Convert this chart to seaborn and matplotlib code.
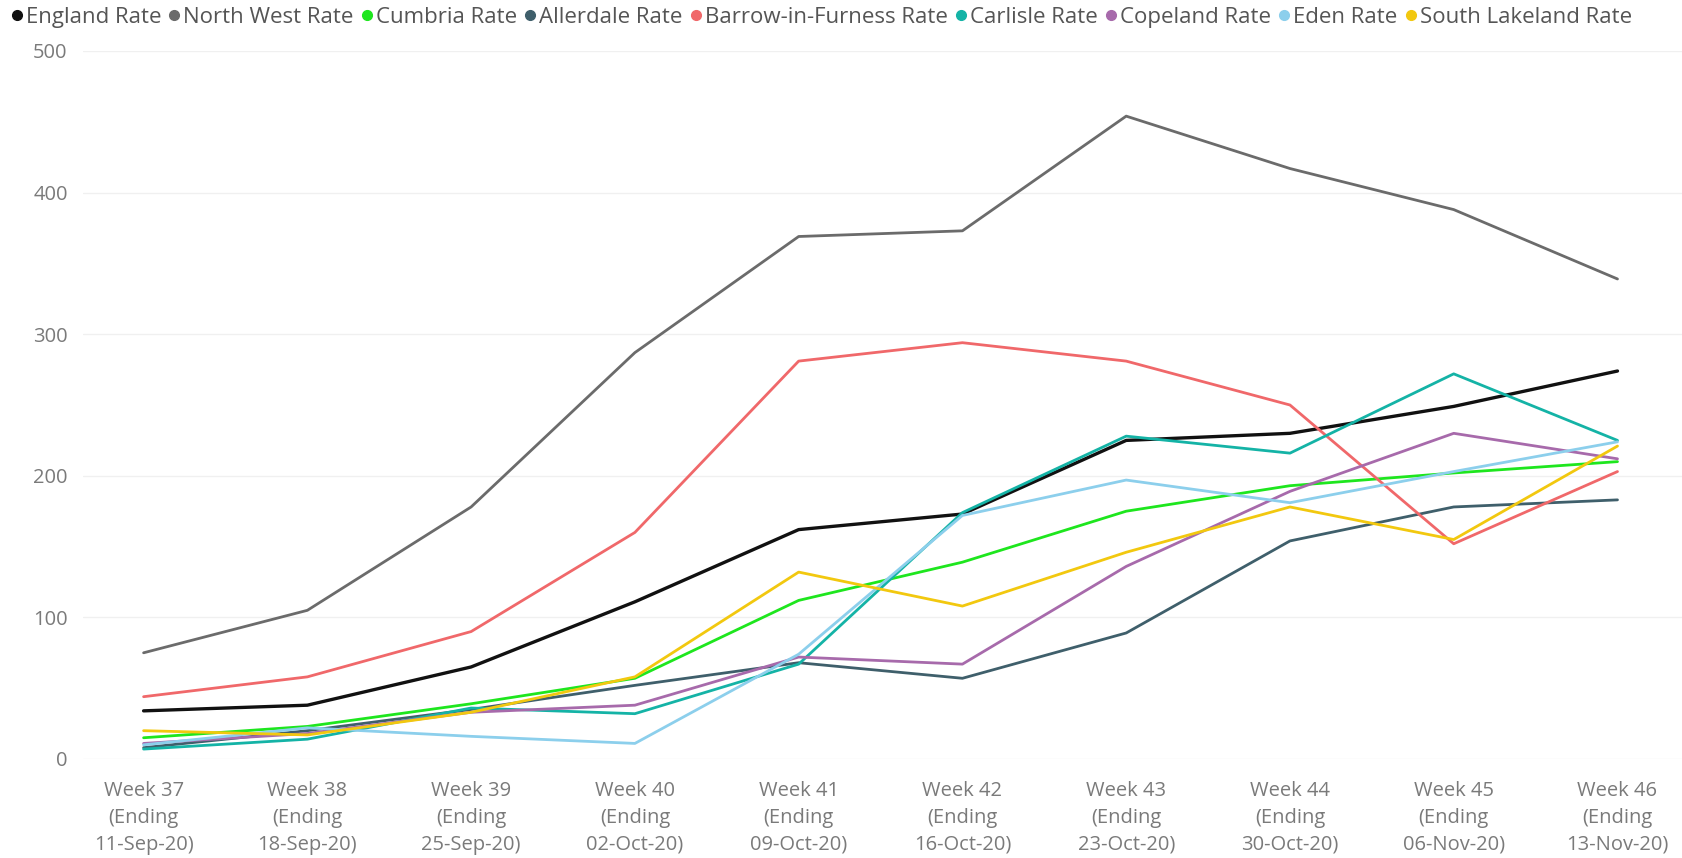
import numpy as np
import pandas as pd
import matplotlib
matplotlib.use("Agg")
import matplotlib.pyplot as plt
from matplotlib.lines import Line2D
import seaborn as sns

weeks = ["Week 37\n(Ending\n11-Sep-20)", "Week 38\n(Ending\n18-Sep-20)",
         "Week 39\n(Ending\n25-Sep-20)", "Week 40\n(Ending\n02-Oct-20)",
         "Week 41\n(Ending\n09-Oct-20)", "Week 42\n(Ending\n16-Oct-20)",
         "Week 43\n(Ending\n23-Oct-20)", "Week 44\n(Ending\n30-Oct-20)",
         "Week 45\n(Ending\n06-Nov-20)", "Week 46\n(Ending\n13-Nov-20)"]

england = [34, 38, 65, 111, 162, 173, 225, 230, 249, 274]
north_west = [75, 105, 178, 287, 369, 373, 454, 417, 388, 339]
cumbria = [15, 23, 39, 57, 112, 139, 175, 193, 202, 210]
allerdale = [8, 20, 35, 52, 68, 57, 89, 154, 178, 183]
barrow = [44, 58, 90, 160, 281, 294, 281, 250, 152, 203]
carlisle = [7, 14, 36, 32, 67, 174, 228, 216, 272, 225]
copeland = [11, 18, 33, 38, 72, 67, 136, 189, 230, 212]
eden = [10, 22, 16, 11, 74, 172, 197, 181, 203, 224]
south_lakeland = [20, 17, 33, 58, 132, 108, 146, 178, 155, 221]

series = {
    "England Rate": england,
    "North West Rate": north_west,
    "Cumbria Rate": cumbria,
    "Allerdale Rate": allerdale,
    "Barrow-in-Furness Rate": barrow,
    "Carlisle Rate": carlisle,
    "Copeland Rate": copeland,
    "Eden Rate": eden,
    "South Lakeland Rate": south_lakeland,
}
colors = ["#111111", "#6b6b6b", "#1ee61e", "#3f5f6b", "#f0686a",
          "#14b3a6", "#a76aab", "#8ccfec", "#f2c80f"]
palette = dict(zip(series.keys(), colors))

rows = []
for name, vals in series.items():
    for i, v in enumerate(vals):
        rows.append({"week": i, "rate": v, "area": name})
df = pd.DataFrame(rows)

sns.set_style("white")
plt.rcParams['font.family'] = ['Open Sans', 'DejaVu Sans']

fig = plt.figure(figsize=(16.83, 8.58), dpi=100)
ax = fig.add_axes([83 / 1683, 1 - 759 / 858, 1 - 83 / 1683, (759 - 51) / 858])

sns.lineplot(data=df, x="week", y="rate", hue="area", palette=palette,
             linewidth=2.0, ax=ax, legend=False)
# england line a bit heavier like the original
ax.lines[0].set_linewidth(2.4)

ax.set_xlim(-0.37, 9.4)
ax.set_ylim(0, 500)
ax.set_yticks([0, 100, 200, 300, 400, 500])
ax.set_xticks(range(len(weeks)))
ax.set_xticklabels(weeks, linespacing=1.45)
ax.tick_params(axis="both", colors="#7a7a7a", labelsize=14.5, length=0)
ax.tick_params(axis="x", pad=16)
ax.tick_params(axis="y", pad=11)
ax.grid(axis="y", color="#f0f0f0", linewidth=1)
ax.set_xlabel("")
ax.set_ylabel("")
for s in ax.spines.values():
    s.set_visible(False)

handles = [Line2D([], [], marker="o", linestyle="none", color=c, markersize=7)
           for c in colors]
fig.legend(handles, list(series.keys()), loc="upper left", bbox_to_anchor=(0.0, 1.005),
           ncol=9, frameon=False, fontsize=16, handlelength=0.5, handletextpad=0.15,
           columnspacing=0.35, borderaxespad=0.1, labelcolor="#555555")

fig.savefig("out.png", dpi=100)
